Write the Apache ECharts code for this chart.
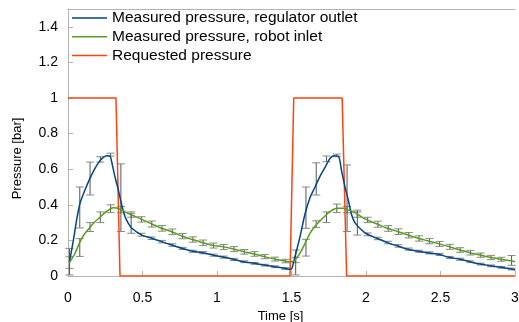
<!DOCTYPE html>
<html><head><meta charset="utf-8">
<script src="https://cdn.jsdelivr.net/npm/echarts@6/dist/echarts.min.js"></script>
<style>html,body{margin:0;padding:0;background:#fff}#c{width:519px;height:322px}</style>
</head><body><div id="c"></div>
<script>
// Requested pressure (square wave)
const reqT = [0, 0.322, 0.349, 1.49, 1.515, 1.84, 1.87, 3.0];
const reqP = [1, 1, 0, 0, 1, 1, 0, 0];

// Measured pressure, regulator outlet (line)
const blueT = [0.01,0.036,0.058,0.081,0.114,0.148,0.181,0.215,0.237,0.260,0.282,0.293,0.315,0.338,0.360,0.383,0.405,0.428,0.495,0.562,0.629,0.696,0.763,0.830,0.904,0.971,1.032,1.109,1.177,1.250,1.317,1.385,1.456,1.490,1.501,
  1.523,1.557,1.591,1.624,1.658,1.691,1.725,1.758,1.785,1.814,1.837,1.859,1.881,1.904,1.926,1.971,2.005,2.072,2.139,2.206,2.273,2.340,2.407,2.485,2.557,2.631,2.698,2.765,2.832,2.906,2.978,3.0];
const blueP = [0.08,0.20,0.315,0.41,0.483,0.55,0.605,0.648,0.667,0.676,0.674,0.642,0.558,0.483,0.40,0.333,0.296,0.268,0.23,0.212,0.193,0.174,0.156,0.14,0.131,0.118,0.108,0.094,0.08,0.071,0.062,0.052,0.043,0.038,0.04,
  0.108,0.22,0.35,0.44,0.50,0.56,0.61,0.66,0.676,0.674,0.586,0.50,0.427,0.343,0.30,0.258,0.236,0.212,0.189,0.17,0.152,0.14,0.131,0.122,0.105,0.094,0.08,0.067,0.058,0.049,0.039,0.035];

// Measured pressure, robot inlet (line)
const greenT = [0.01,0.047,0.081,0.114,0.148,0.181,0.215,0.248,0.282,0.304,0.327,0.360,0.394,0.428,0.495,0.562,0.629,0.696,0.763,0.830,0.904,0.971,1.032,1.109,1.177,1.250,1.317,1.385,1.456,1.490,
  1.523,1.557,1.591,1.624,1.658,1.691,1.725,1.758,1.803,1.848,1.893,1.926,2.0,2.076,2.143,2.217,2.284,2.351,2.418,2.485,2.557,2.631,2.698,2.765,2.832,2.906,2.978,3.0];
const greenP = [0.075,0.128,0.193,0.24,0.274,0.305,0.33,0.356,0.376,0.384,0.382,0.371,0.356,0.343,0.318,0.292,0.268,0.249,0.225,0.206,0.187,0.172,0.165,0.152,0.137,0.124,0.109,0.095,0.084,0.08,
  0.09,0.128,0.184,0.24,0.28,0.309,0.337,0.361,0.38,0.38,0.367,0.356,0.318,0.292,0.268,0.249,0.23,0.212,0.197,0.182,0.165,0.146,0.131,0.118,0.105,0.094,0.084,0.08];

// Error bar sample times
const barT = [0.010,0.079,0.148,0.217,0.286,0.355,0.424,0.493,0.562,0.631,0.700,0.769,0.838,0.907,0.976,1.045,1.114,1.183,1.252,1.321,1.390,1.459,
  1.528,1.597,1.666,1.735,1.804,1.873,1.942,2.011,2.080,2.149,2.218,2.287,2.356,2.425,2.494,2.563,2.632,2.701,2.770,2.839,2.908,2.977];
const blueLo = [0.006,0.27,0.455,0.64,0.674,0.25,0.24,0.224,0.205,0.186,0.167,0.149,0.133,0.125,0.111,0.100,0.087,0.075,0.066,0.056,0.047,0.037,
  0.006,0.268,0.455,0.642,0.67,0.25,0.23,0.226,0.204,0.181,0.162,0.145,0.133,0.124,0.115,0.098,0.088,0.075,0.062,0.052,0.044,0.034];
const blueHi = [0.155,0.50,0.64,0.67,0.69,0.63,0.35,0.240,0.219,0.200,0.181,0.161,0.145,0.137,0.123,0.112,0.099,0.085,0.076,0.066,0.057,0.047,
  0.146,0.50,0.636,0.674,0.685,0.624,0.37,0.242,0.218,0.195,0.176,0.157,0.145,0.136,0.127,0.110,0.100,0.085,0.072,0.062,0.054,0.044];
const greenLo = [0.043,0.11,0.25,0.30,0.356,0.355,0.33,0.303,0.275,0.252,0.232,0.209,0.19,0.172,0.157,0.149,0.137,0.123,0.111,0.097,0.084,0.074,
  0.075,0.112,0.273,0.30,0.356,0.355,0.33,0.30,0.274,0.251,0.233,0.214,0.196,0.181,0.166,0.15,0.133,0.118,0.105,0.092,0.083,0.06];
const greenHi = [0.108,0.21,0.30,0.36,0.40,0.39,0.36,0.333,0.309,0.284,0.264,0.239,0.22,0.202,0.185,0.177,0.165,0.149,0.137,0.121,0.106,0.094,
  0.105,0.206,0.31,0.36,0.404,0.39,0.36,0.33,0.308,0.283,0.265,0.244,0.226,0.211,0.194,0.178,0.159,0.144,0.129,0.116,0.105,0.115];

const xTicks = [0, 0.5, 1, 1.5, 2, 2.5, 3];
const yTicks = [0, 0.2, 0.4, 0.6, 0.8, 1, 1.2, 1.4];
const legendNames = ['Measured pressure, regulator outlet', 'Measured pressure, robot inlet', 'Requested pressure'];

const zip = (a, b) => a.map((v, i) => [v, b[i]]);
const zip3 = (a, b, c) => a.map((v, i) => [v, b[i], c[i]]);

function errRender(params, api) {
  const t = api.value(0), lo = api.value(1), hi = api.value(2);
  const p1 = api.coord([t, lo]), p2 = api.coord([t, hi]);
  const w = 4;
  const st = { stroke: '#555', lineWidth: 1 };
  const stc = { stroke: '#888', lineWidth: 1 };
  return { type: 'group', children: [
    { type: 'line', shape: { x1: p1[0], y1: p1[1], x2: p2[0], y2: p2[1] }, style: st },
    { type: 'line', shape: { x1: p1[0] - w, y1: p1[1], x2: p1[0] + w, y2: p1[1] }, style: stc },
    { type: 'line', shape: { x1: p2[0] - w, y1: p2[1], x2: p2[0] + w, y2: p2[1] }, style: stc }
  ]};
}

const chart = echarts.init(document.getElementById('c'), null, { renderer: 'canvas' });
const axisGray = '#b3b3b3';
const font = '"Liberation Sans", Arial, sans-serif';
const lineIcon = 'path://M0,0H36V1.5H0Z';
chart.setOption({
  animation: false,
  textStyle: { fontFamily: font },
  grid: { left: 68, right: 4, top: 9, bottom: 46, outerBoundsMode: 'none', containLabel: false },
  legend: {
    orient: 'vertical', left: 67, top: 5, itemWidth: 35, itemHeight: 14, itemGap: 2.8,
    data: legendNames.map(n => ({ name: n, icon: lineIcon })),
    textStyle: { fontSize: 15.5, color: '#000', fontFamily: font }
  },
  xAxis: [{
    type: 'value', min: 0, max: 3, interval: 0.5,
    name: 'Time [s]', nameLocation: 'middle', nameGap: 32,
    nameTextStyle: { fontSize: 13, color: '#000', padding: [0, 22, 0, 0] },
    axisLine: { lineStyle: { color: axisGray, width: 1 } },
    axisTick: { inside: true, length: 5, lineStyle: { color: axisGray } },
    axisLabel: { fontSize: 14, color: '#000', margin: 15, formatter: v => xTicks.includes(v) ? String(v) : '' },
    splitLine: { show: false }
  }, {
    type: 'value', min: 0, max: 3, position: 'top',
    axisLine: { show: true, onZero: false, lineStyle: { color: axisGray, width: 1 } },
    axisTick: { show: false }, axisLabel: { show: false }, splitLine: { show: false }
  }],
  yAxis: {
    type: 'value', min: 0, max: 1.5, interval: 0.2,
    name: 'Pressure [bar]', nameLocation: 'middle', nameGap: 44,
    nameTextStyle: { fontSize: 13, color: '#000', padding: [0, 32, 0, 0] },
    axisLine: { show: true, lineStyle: { color: axisGray, width: 1 } },
    axisTick: { show: true, inside: true, length: 5, lineStyle: { color: axisGray } },
    axisLabel: { fontSize: 14, color: '#000', margin: 10, showMaxLabel: false,
      formatter: v => { const r = Math.round(v * 10) / 10; return yTicks.includes(r) ? String(r) : ''; } },
    splitLine: { show: false }
  },
  series: [
    { name: 'barsGreen', type: 'custom', renderItem: errRender, data: zip3(barT, greenLo, greenHi), z: 1, silent: true },
    { name: 'barsBlue', type: 'custom', renderItem: errRender, data: zip3(barT, blueLo, blueHi), z: 1, silent: true },
    { name: legendNames[0], type: 'line', data: zip(blueT, blueP), symbol: 'none', smooth: 0.3,
      lineStyle: { color: '#004586', width: 1.5 }, itemStyle: { color: '#004586' }, z: 3 },
    { name: legendNames[1], type: 'line', data: zip(greenT, greenP), symbol: 'none', smooth: 0.3,
      lineStyle: { color: '#579d1c', width: 1.5 }, itemStyle: { color: '#579d1c' }, z: 3 },
    { name: legendNames[2], type: 'line', data: zip(reqT, reqP), symbol: 'none',
      lineStyle: { color: '#ff420e', width: 1.5 }, itemStyle: { color: '#ff420e' }, z: 2 }
  ]
});
</script></body></html>
